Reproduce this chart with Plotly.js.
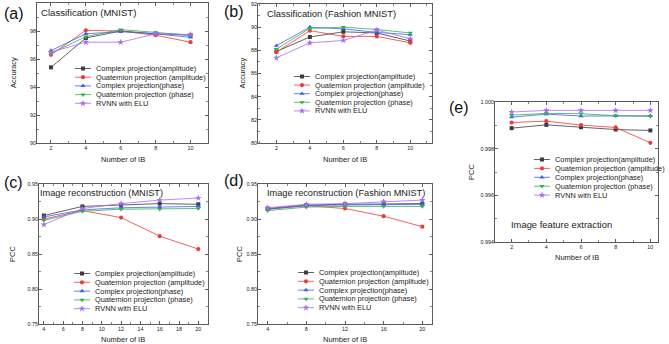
<!DOCTYPE html>
<html><head><meta charset="utf-8">
<script src="https://cdn.plot.ly/plotly-3.0.1.min.js"></script>
<style>html,body{margin:0;padding:0;background:#fff}#chart{width:669px;height:344px}</style>
</head><body><div id="chart"></div>
<script>
// ---------------- DATA ----------------
const seriesNames = ['Complex projection(amplitude)', 'Quaternion projection (amplitude)', 'Complex projection(phase)', 'Quaternion projection (phase)', 'RVNN with ELU'];
const ibShort = [2, 4, 6, 8, 10];
const ibLong = [4, 8, 12, 16, 20];

// (a) Classification (MNIST) - accuracy
const accMnistComplexAmp   = [95.4, 97.5, 98.0, 97.8, 97.7];
const accMnistQuatAmp      = [96.3, 98.05, 98.0, 97.7, 97.2];
const accMnistComplexPhase = [96.6, 97.8, 97.95, 97.8, 97.55];
const accMnistQuatPhase    = [96.4, 97.6, 98.1, 97.9, 97.7];
const accMnistRvnn         = [96.5, 97.2, 97.2, 97.8, 97.75];

// (b) Classification (Fashion MNIST) - accuracy
const accFashionComplexAmp   = [87.9, 89.15, 89.6, 89.5, 88.8];
const accFashionQuatAmp      = [87.85, 89.7, 89.2, 89.2, 88.65];
const accFashionComplexPhase = [88.4, 90.0, 89.85, 89.55, 89.35];
const accFashionQuatPhase    = [88.1, 89.9, 90.0, 89.8, 89.5];
const accFashionRvnn         = [87.35, 88.65, 88.85, 89.75, 89.0];

// (c) Image reconstruction (MNIST) - PCC
const recMnistComplexAmp   = [0.905, 0.918, 0.920, 0.922, 0.921];
const recMnistQuatAmp      = [0.900, 0.912, 0.902, 0.8755, 0.857];
const recMnistComplexPhase = [0.903, 0.913, 0.916, 0.917, 0.918];
const recMnistQuatPhase    = [0.898, 0.911, 0.914, 0.914, 0.915];
const recMnistRvnn         = [0.892, 0.915, 0.922, 0.927, 0.930];

// (d) Image reconstruction (Fashion MNIST) - PCC
const recFashionComplexAmp   = [0.915, 0.920, 0.921, 0.922, 0.922];
const recFashionQuatAmp      = [0.914, 0.919, 0.915, 0.904, 0.889];
const recFashionComplexPhase = [0.914, 0.919, 0.920, 0.920, 0.921];
const recFashionQuatPhase    = [0.912, 0.917, 0.918, 0.918, 0.918];
const recFashionRvnn         = [0.916, 0.921, 0.922, 0.925, 0.927];

// (e) Image feature extraction - PCC
const featComplexAmp   = [0.99888, 0.99902, 0.99892, 0.99882, 0.99878];
const featQuatAmp      = [0.99912, 0.99918, 0.99901, 0.99891, 0.99825];
const featComplexPhase = [0.99935, 0.99948, 0.99940, 0.99941, 0.99941];
const featQuatPhase    = [0.99944, 0.99951, 0.99950, 0.99941, 0.99938];
const featRvnn         = [0.99957, 0.99964, 0.99964, 0.99964, 0.99964];

const panelTitles = ['Classification (MNIST)', 'Classification (Fashion MNIST)', 'Image reconstruction (MNIST)', 'Image reconstruction (Fashion MNIST)', 'Image feature extraction'];
const panelLabels = ['(a)', '(b)', '(c)', '(d)', '(e)'];
const xTitle = 'Number of IB';
const yTitles = ['Accuracy', 'Accuracy', 'PCC', 'PCC', 'PCC'];

// ---------------- STYLE / LAYOUT ----------------
const W = 669, H = 344;
const FONT = 'Liberation Sans, Arial, Helvetica, sans-serif';
const colors = ['#3c3c3c', '#f03a3a', '#3a62ee', '#34b050', '#a86cf0'];
const symbols = ['square', 'circle', 'triangle-up', 'triangle-down', 'star'];
const msize = [4, 4.2, 4.6, 4.6, 5.0];

const panels = [
  {x: ibShort, ys: [accMnistComplexAmp, accMnistQuatAmp, accMnistComplexPhase, accMnistQuatPhase, accMnistRvnn],
   box: [37, 208, 3, 143], xr: [1.2, 11.0], yr: [90, 100], xd: 2, xm: 1, yd: 2, ym: 1, yfmt: 'd',
   title: [39, 13], tsize: 9.6, label: [2, 14], leg: [75, 68.5, 8.7], yt: 14, xt: 160},
  {x: ibShort, ys: [accFashionComplexAmp, accFashionQuatAmp, accFashionComplexPhase, accFashionQuatPhase, accFashionRvnn],
   box: [258, 432, 4, 143], xr: [0.9, 11.3], yr: [80, 92], xd: 2, xm: 1, yd: 2, ym: 1, yfmt: 'd',
   title: [265, 13.5], tsize: 9.4, label: [222, 12], leg: [294, 76.5, 8.6], yt: 242, xt: 160},
  {x: ibLong, ys: [recMnistComplexAmp, recMnistQuatAmp, recMnistComplexPhase, recMnistQuatPhase, recMnistRvnn],
   box: [39, 208, 184, 324], xr: [3.5, 21.0], yr: [0.75, 0.95], xd: 2, xm: 1, yd: 0.05, ym: 0.025, yfmt: '.2f',
   title: [38, 193], tsize: 9.2, label: [2, 182], leg: [74, 273.5, 8.8], yt: 12, xt: 339.5},
  {x: ibLong, ys: [recFashionComplexAmp, recFashionQuatAmp, recFashionComplexPhase, recFashionQuatPhase, recFashionRvnn],
   box: [258, 432, 184, 324], xr: [3.0, 21.0], yr: [0.75, 0.95], xd: 4, xm: 2, yd: 0.05, ym: 0.025, yfmt: '.2f',
   title: [265, 193], tsize: 9.2, label: [222, 180], leg: [298, 272.5, 8.8], yt: 239, xt: 339.5},
  {x: ibShort, ys: [featComplexAmp, featQuatAmp, featComplexPhase, featQuatPhase, featRvnn],
   box: [495, 658, 102, 242], xr: [1.04, 10.44], yr: [0.994, 1.000], xd: 2, xm: 1, yd: 0.002, ym: 0.001, yfmt: '.3f',
   title: [509, 224], tsize: 9.4, label: [447, 107], leg: [534, 159.5, 8.9], yt: 471, xt: 257}
];

const layout = {
  width: W, height: H, margin: {l: 0, r: 0, t: 0, b: 0},
  paper_bgcolor: '#ffffff', plot_bgcolor: 'rgba(0,0,0,0)',
  showlegend: false, font: {family: FONT, color: '#222'},
  annotations: [], shapes: []
};
const traces = [];

const px2x = p => p / W;
const py2y = p => 1 - p / H;

panels.forEach((p, i) => {
  const n = i + 1;
  const xk = n === 1 ? 'xaxis' : 'xaxis' + n;
  const yk = n === 1 ? 'yaxis' : 'yaxis' + n;
  const common = {
    showline: true, linecolor: '#333', linewidth: 0.8, mirror: 'ticks',
    ticks: 'inside', ticklen: 3, tickwidth: 0.8, tickcolor: '#333',
    showgrid: false, zeroline: false, fixedrange: true, automargin: false,
    tickfont: {size: 5.4, color: '#222', family: FONT}
  };
  layout[xk] = Object.assign({}, common, {
    domain: [px2x(p.box[0]), px2x(p.box[1])], range: p.xr, anchor: 'y' + (n === 1 ? '' : n),
    tick0: 0, dtick: p.xd,
    minor: {ticks: 'inside', ticklen: 1.8, tickwidth: 0.6, tickcolor: '#333', dtick: p.xm, showgrid: false}
  });
  layout[yk] = Object.assign({}, common, {
    domain: [py2y(p.box[3]), py2y(p.box[2])], range: p.yr, anchor: 'x' + (n === 1 ? '' : n),
    tick0: 0, dtick: p.yd, tickformat: p.yfmt, ticklabelstandoff: -1,
    minor: {ticks: 'inside', ticklen: 1.8, tickwidth: 0.6, tickcolor: '#333', dtick: p.ym, showgrid: false}
  });
  p.ys.forEach((ys, s) => {
    traces.push({
      type: 'scatter', mode: 'lines+markers', name: seriesNames[s],
      x: p.x, y: ys, xaxis: 'x' + (n === 1 ? '' : n), yaxis: 'y' + (n === 1 ? '' : n),
      line: {color: colors[s], width: 0.8},
      marker: {color: colors[s], symbol: symbols[s], size: msize[s], line: {width: 0}},
      cliponaxis: false
    });
  });
  // axis titles
  layout.annotations.push({text: xTitle, xref: 'paper', yref: 'paper', x: px2x((p.box[0] + p.box[1]) / 2), y: py2y(p.xt),
    xanchor: 'center', yanchor: 'middle', showarrow: false, font: {size: 7.5, color: '#222', family: FONT}});
  layout.annotations.push({text: yTitles[i], xref: 'paper', yref: 'paper', x: px2x(p.yt), y: py2y((p.box[2] + p.box[3]) / 2),
    xanchor: 'center', yanchor: 'middle', textangle: -90, showarrow: false, font: {size: 7.5, color: '#222', family: FONT}});
  // panel title & label
  layout.annotations.push({text: panelTitles[i], xref: 'paper', yref: 'paper', x: px2x(p.title[0]), y: py2y(p.title[1]),
    xanchor: 'left', yanchor: 'middle', showarrow: false, font: {size: p.tsize, color: '#222', family: FONT}});
  layout.annotations.push({text: panelLabels[i], xref: 'paper', yref: 'paper', x: px2x(p.label[0]), y: py2y(p.label[1]),
    xanchor: 'left', yanchor: 'middle', showarrow: false, font: {size: 16, color: '#111', family: FONT}});
  // manual legend (key lines/markers drawn on an overlay page-pixel axis)
  seriesNames.forEach((name, s) => {
    const ry = p.leg[1] + s * p.leg[2];
    traces.push({type: 'scatter', mode: 'lines', x: [p.leg[0], p.leg[0] + 16], y: [ry, ry], xaxis: 'x6', yaxis: 'y6',
      line: {color: colors[s], width: 0.8}, hoverinfo: 'skip', showlegend: false});
    traces.push({type: 'scatter', mode: 'markers', x: [p.leg[0] + 8], y: [ry], xaxis: 'x6', yaxis: 'y6',
      marker: {color: colors[s], symbol: symbols[s], size: msize[s], line: {width: 0}}, hoverinfo: 'skip', showlegend: false});
    layout.annotations.push({text: name, xref: 'paper', yref: 'paper', x: px2x(p.leg[0] + 18.5), y: py2y(ry),
      xanchor: 'left', yanchor: 'middle', showarrow: false, font: {size: 7.4, color: '#222', family: FONT}});
  });
});

layout.xaxis6 = {domain: [0, 1], range: [0, W], visible: false, anchor: 'y6', fixedrange: true};
layout.yaxis6 = {domain: [0, 1], range: [H, 0], visible: false, anchor: 'x6', fixedrange: true};

Plotly.newPlot('chart', traces, layout, {displayModeBar: false, staticPlot: true});
</script>
</body></html>
